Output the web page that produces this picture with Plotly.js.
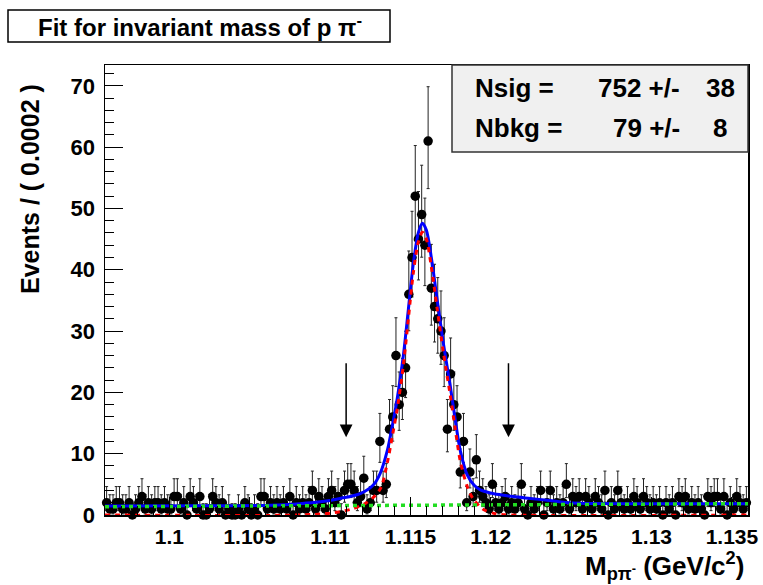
<!DOCTYPE html>
<html>
<head>
<meta charset="utf-8">
<script src="https://cdn.plot.ly/plotly-3.0.1.min.js"></script>
<style>html,body{margin:0;padding:0;background:#fff;}#plot{width:763px;height:585px;}</style>
</head>
<body>
<div id="plot"></div>
<script>
// ---- Data ----
const binStart = 1.0961;      // first bin centre (GeV)
const binWidth = 0.0002;      // bin width (GeV)
const counts = [
 2,1,1,2,2,1,1,2,0,1, 2,3,1,2,1,2,2,1,2,1, 1,3,3,1,2,0,3,2,1,3, 0,0,1,3,2,1,2,0,1,0,
 0,1,0,2,1,0,1,0,3,3, 1,2,1,2,1,2,1,3,0,2, 1,2,1,2,4,1,3,2,1,3, 4,2,3,0,4,5,5,4,2,3,
 6,1,2,4,4,12,4,5,14,16, 26,18,20,24,36,42,52,45,49,44, 61,37,34,32,30,26,14,23,18,16,
 7,12,2,7,3,9,4,3,2,1, 5,2,1,2,3,1,2,1,2,5, 1,0,2,1,2,4,0,2,4,1, 2,1,2,5,1,3,2,3,1,3,
 2,1,3,2,1,4,0,2,1,4, 2,1,2,1,3,2,1,3,2,1, 2,1,2,0,2,1,2,0,3,2, 3,1,2,1,2,1,0,3,2,3,
 3,1,3,0,2,1,3,2,1,2
];

// total fit (blue), read at sample masses
const totalX = [1.09600,1.10192,1.10627,1.10814,1.10939,1.11063,1.11188,1.11269,1.11312,1.11356,
  1.11387,1.11418,1.11456,1.11487,1.11518,1.11549,1.11574,1.11599,1.11630,1.11667,
  1.11705,1.11748,1.11779,1.11810,1.11854,1.11898,1.11935,1.11997,1.12060,1.12140,
  1.12246,1.12352,1.12464,1.12558,1.12994,1.13600];
const totalY = [1.45,1.5,1.6,1.85,2.15,2.7,3.5,4.9,6.8,10.5,
  14.5,19,26,33.5,41,46,47.6,46.5,42,35,
  28,21,15.5,10.5,6.5,4.8,4.1,3.6,3.3,3.0,
  2.7,2.4,2.05,1.9,1.85,1.85];

// signal component (red dashed)
const sigX = [1.09600,1.10814,1.11001,1.11126,1.11220,1.11282,1.11319,1.11356,1.11387,1.11418,
  1.11456,1.11487,1.11518,1.11549,1.11574,1.11599,1.11630,1.11667,1.11705,1.11748,
  1.11779,1.11810,1.11854,1.11891,1.11954,1.12028,1.12122,1.13600];
const sigY = [0,0,0.3,0.9,1.9,3.2,4.6,8.5,12.8,17.3,
  24.4,32,39.5,44.5,46.1,45,40.5,33.5,26.5,19.5,
  14,8.8,4.6,2.6,0.9,0.2,0,0];

// background component (green dotted)
const bkgX = [1.0960, 1.1360];
const bkgY = [1.35, 1.85];

// signal-region arrows
const arrowX = [1.1110, 1.1211];
const arrowTip = [12.7, 12.7];
const arrowTail = [25.0, 25.0];

// axis ticks
const xTickVals = [1.1, 1.105, 1.11, 1.115, 1.12, 1.125, 1.13, 1.135];
const xTickText = ['1.1','1.105','1.11','1.115','1.12','1.125','1.13','1.135'];

// fit results
const statLabels = ['Nsig =', 'Nbkg ='];
const statValues = ['752 +/-', '79 +/-'];
const statErrors = ['38', '8'];

// ---- Poisson (Garwood) error bars ----
const POIS_LO = [0, 0.173, 0.708, 1.367, 2.086, 2.840, 3.620, 4.419, 5.232, 6.057, 6.891];
const POIS_HI = [1.841, 3.300, 4.638, 5.918, 7.163, 8.382, 9.584, 10.77, 11.95, 13.11, 14.27];
function lo(n){ return n <= 10 ? POIS_LO[n] : n - Math.sqrt(n) + 0.05; }
function hi(n){ return n <= 10 ? POIS_HI[n] : n + Math.sqrt(n + 0.75) + 1; }
const errPlus = counts.map(n => hi(n) - n);
const errMinus = counts.map(n => n - lo(n));

// ---- pixel helpers for paper placement of decorations ----
const L = 105, R = 748, T = 65, B = 515;
const px = p => (p - L) / (R - L);
const py = p => (B - p) / (B - T);

const FONT = 'Liberation Sans, Arial, Helvetica, sans-serif';

const traces = [
  {
    type: 'scatter', mode: 'markers',
    x0: binStart, dx: binWidth, y: counts,
    marker: {symbol: 'circle', size: 9.5, color: '#000'},
    error_y: {type: 'data', symmetric: false, array: errPlus, arrayminus: errMinus,
              color: '#222', thickness: 1, width: 1.5},
    cliponaxis: false, hoverinfo: 'x+y', showlegend: false
  },
  {
    type: 'scatter', mode: 'lines', x: totalX, y: totalY,
    line: {color: '#0000ff', width: 3, shape: 'spline', smoothing: 0.8},
    showlegend: false
  },
  {
    type: 'scatter', mode: 'lines', x: sigX, y: sigY,
    line: {color: '#ff0000', width: 3, dash: '5px,5px', shape: 'spline', smoothing: 0.8},
    showlegend: false
  },
  {
    type: 'scatter', mode: 'lines', x: bkgX, y: bkgY,
    line: {color: '#22dd22', width: 3.5, dash: '4px,4px'},
    showlegend: false
  }
];

const annotations = [];
// arrows
arrowX.forEach((x, i) => annotations.push({
  x: x, y: arrowTip[i], ax: x, ay: arrowTail[i], xref: 'x', yref: 'y', axref: 'x', ayref: 'y',
  text: '', showarrow: true, arrowhead: 2, arrowsize: 1.7, arrowwidth: 1.5, arrowcolor: '#000'
}));
// title
annotations.push({
  xref: 'paper', yref: 'paper', x: px(200), y: py(26), xanchor: 'center', yanchor: 'middle',
  text: 'Fit for invariant mass of p π<sup>-</sup>', showarrow: false,
  font: {family: FONT, size: 24, color: '#000', weight: 'bold'}
});
// stats text
[88, 128].forEach((yy, i) => {
  annotations.push({xref: 'paper', yref: 'paper', x: px(473), y: py(yy), xanchor: 'left', yanchor: 'middle',
    text: statLabels[i], showarrow: false, font: {family: FONT, size: 26, color: '#000', weight: 'bold'}});
  annotations.push({xref: 'paper', yref: 'paper', x: px(682), y: py(yy), xanchor: 'right', yanchor: 'middle',
    text: statValues[i], showarrow: false, font: {family: FONT, size: 26, color: '#000', weight: 'bold'}});
  annotations.push({xref: 'paper', yref: 'paper', x: px(720), y: py(yy), xanchor: 'center', yanchor: 'middle',
    text: statErrors[i], showarrow: false, font: {family: FONT, size: 26, color: '#000', weight: 'bold'}});
});
// axis titles
annotations.push({
  xref: 'paper', yref: 'paper', x: px(30), y: py(189), xanchor: 'center', yanchor: 'middle',
  textangle: -90, text: 'Events / ( 0.0002 )', showarrow: false,
  font: {family: FONT, size: 25, color: '#000', weight: 'bold'}
});
annotations.push({
  xref: 'paper', yref: 'paper', x: px(746), y: py(566), xanchor: 'right', yanchor: 'middle',
  text: 'M<sub>pπ<sup>-</sup></sub> (GeV/c<sup>2</sup>)', showarrow: false,
  font: {family: FONT, size: 26, color: '#000', weight: 'bold'}
});

const shapes = [
  {type: 'rect', xref: 'paper', yref: 'paper', x0: px(8), x1: px(390), y0: py(42), y1: py(10),
   line: {color: '#000', width: 1.5}, fillcolor: '#fff', layer: 'below'},
  {type: 'rect', xref: 'paper', yref: 'paper', x0: px(452), x1: px(748), y0: py(152), y1: py(65),
   line: {color: '#333', width: 1.5}, fillcolor: '#f0f0f0', layer: 'above'}
];

const layout = {
  width: 763, height: 585,
  margin: {l: L, r: 763 - R, t: T, b: 585 - B, pad: 0},
  paper_bgcolor: '#fff', plot_bgcolor: '#fff',
  showlegend: false,
  xaxis: {
    range: [1.096, 1.136], tickvals: xTickVals, ticktext: xTickText,
    ticks: 'inside', ticklen: 18, tickwidth: 1, tickcolor: '#000',
    minor: {dtick: 0.001, tick0: 1.096, ticks: 'inside', ticklen: 9, tickwidth: 1, tickcolor: '#000', showgrid: false},
    showline: true, mirror: true, linecolor: '#000', linewidth: 1.5,
    showgrid: false, zeroline: false, ticklabelstandoff: 2,
    tickfont: {family: FONT, size: 21, color: '#000', weight: 'bold'}
  },
  yaxis: {
    range: [0, 73.4], dtick: 10, tick0: 0,
    ticks: 'inside', ticklen: 18, tickwidth: 1, tickcolor: '#000',
    minor: {dtick: 2, ticks: 'inside', ticklen: 9, tickwidth: 1, tickcolor: '#000', showgrid: false},
    showline: true, mirror: true, linecolor: '#000', linewidth: 1.5,
    showgrid: false, zeroline: false, ticklabelstandoff: 4,
    tickfont: {family: FONT, size: 22, color: '#000', weight: 'bold'}
  },
  annotations: annotations,
  shapes: shapes
};

Plotly.newPlot('plot', traces, layout, {staticPlot: true, displayModeBar: false});
</script>
</body>
</html>
